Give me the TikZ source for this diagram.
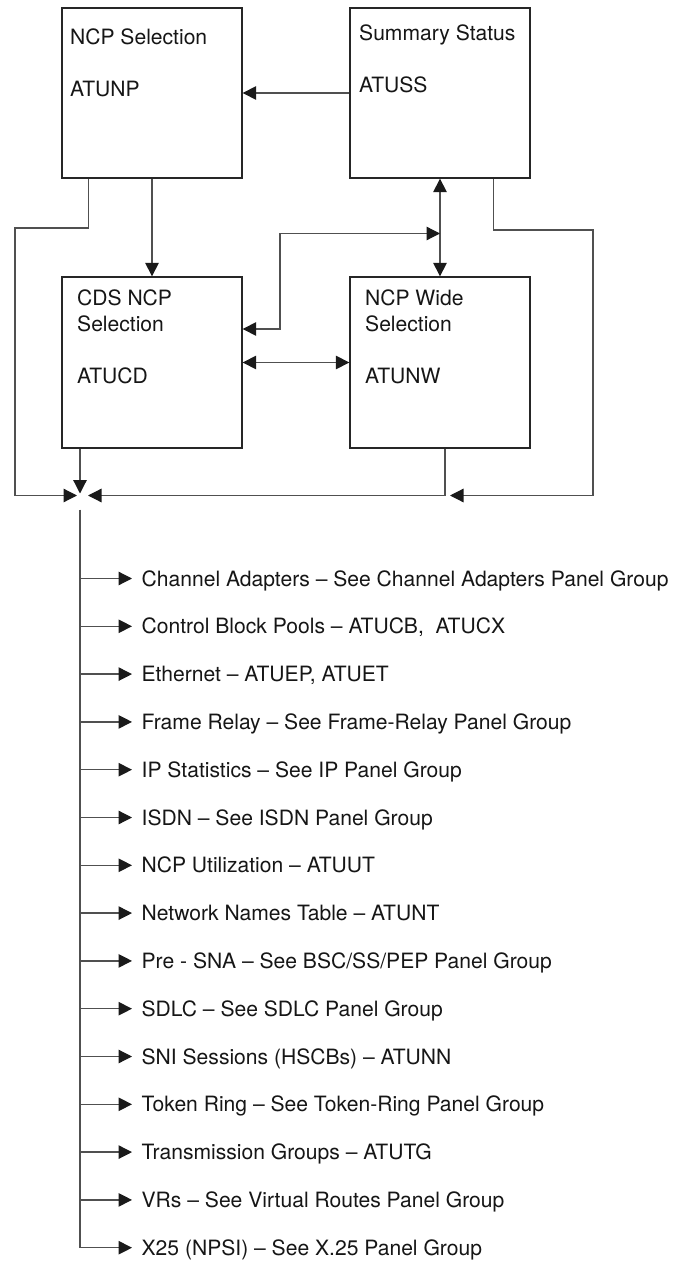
\documentclass[tikz,border=0pt]{standalone}
\usepackage{fontspec}
\setmainfont{TeX Gyre Heros}
\usetikzlibrary{positioning, arrows.meta}
\definecolor{clrborder}{HTML}{262626}
\definecolor{clrwire}{HTML}{505050}
\definecolor{clrtip}{HTML}{1A1A1A}
\definecolor{clrtext}{HTML}{161616}

\begin{document}
\begin{tikzpicture}[
    >={Triangle[length=0.27cm, width=0.27cm, color=clrtip]},
    every node/.style={font=\fontsize{12}{14.8}\selectfont, text=clrtext},
    block/.style={draw=clrborder, line width=0.75pt, minimum width=3.6cm,
                  minimum height=3.4cm, inner sep=0pt},
    blocktext/.style={align=left, inner sep=0pt},
    wire/.style={draw=clrwire, line width=0.7pt},
    arrow/.style={wire, ->},
    dblarrow/.style={wire, <->},
    listitem/.style={anchor=west, inner xsep=0.186cm, inner ysep=0pt,
                     text height=8.6pt, text depth=0pt},
]
\path[use as bounding box, fill=white] (0,0) rectangle (13.54,-25.24);
% panels
\node[block] (n_1) at (3.04,-1.86) {};
\node[block] (n_2) at (8.80,-1.86) {};
\node[block, minimum height=3.42cm] (n_3) at (3.04,-7.25) {};
\node[block, minimum height=3.42cm] (n_4) at (8.80,-7.25) {};
\node[blocktext, below right=0.42cm and 0.17cm of n_1.north west] (t_1) {NCP Selection\\[14.8pt]ATUNP};
\node[blocktext, below right=0.34cm and 0.19cm of n_2.north west] (t_2) {Summary Status\\[14.8pt]ATUSS};
\node[blocktext, below right=0.27cm and 0.31cm of n_3.north west] (t_3) {CDS NCP\\Selection\\[14.8pt]ATUCD};
\node[blocktext, below right=0.27cm and 0.31cm of n_4.north west] (t_4) {NCP Wide\\Selection\\[14.8pt]ATUNW};
% routing points
\coordinate (j) at (1.60,-9.91);
\coordinate (j_low) at ([yshift=-0.28cm]j);
\coordinate (c_1) at (0.30,-4.56);
\coordinate (c_2) at (11.86,-4.60);
\coordinate (c_3) at (5.60,-4.67);
\coordinate (c_4) at ([xshift=0.10cm]n_4.south);
\draw[arrow] (n_2.west) -- (n_1.east);
\draw[arrow] (n_1.south) -- (n_3.north);
\draw[dblarrow] (n_2.south) -- (n_4.north);
\draw[dblarrow] (n_3.east) -- (n_4.west);
\draw[dblarrow] ([yshift=0.67cm]n_3.east) -| (c_3) -- (c_3 -| n_2.south);
\draw[arrow, shorten >=0.06cm] ([xshift=0.54cm]n_1.south west) |- (c_1) |- (j);
\draw[arrow, shorten >=0.04cm] (n_3.south -| j) -- (j);
\draw[arrow, shorten >=0.16cm] (c_4) |- (j);
\draw[arrow, shorten >=0.10cm] ([xshift=-0.74cm]n_2.south east) |- (c_2) |- (c_4 |- j);
% panel list
\node[listitem] (i_1) at (2.64,-11.57) {Channel Adapters -- See Channel Adapters Panel Group};
\node[below=0.956cm of i_1.west, listitem] (i_2) {Control Block Pools -- ATUCB, \ ATUCX};
\node[below=0.956cm of i_2.west, listitem] (i_3) {Ethernet -- ATUEP, ATUET};
\node[below=0.956cm of i_3.west, listitem] (i_4) {Frame Relay -- See Frame-Relay Panel Group};
\node[below=0.956cm of i_4.west, listitem] (i_5) {IP Statistics -- See IP Panel Group};
\node[below=0.956cm of i_5.west, listitem] (i_6) {ISDN -- See ISDN Panel Group};
\node[below=0.956cm of i_6.west, listitem] (i_7) {NCP Utilization -- ATUUT};
\node[below=0.956cm of i_7.west, listitem] (i_8) {Network Names Table -- ATUNT};
\node[below=0.956cm of i_8.west, listitem] (i_9) {Pre - SNA -- See BSC/SS/PEP Panel Group};
\node[below=0.956cm of i_9.west, listitem] (i_10) {SDLC -- See SDLC Panel Group};
\node[below=0.956cm of i_10.west, listitem] (i_11) {SNI Sessions (HSCBs) -- ATUNN};
\node[below=0.956cm of i_11.west, listitem] (i_12) {Token Ring -- See Token-Ring Panel Group};
\node[below=0.956cm of i_12.west, listitem] (i_13) {Transmission Groups -- ATUTG};
\node[below=0.956cm of i_13.west, listitem] (i_14) {VRs -- See Virtual Routes Panel Group};
\node[below=0.956cm of i_14.west, listitem] (i_15) {X25 (NPSI) -- See X.25 Panel Group};
\draw[arrow] (j_low) |- (i_15.west);
\draw[arrow] (j_low |- i_1.west) -- (i_1.west);
\draw[arrow] (j_low |- i_2.west) -- (i_2.west);
\draw[arrow] (j_low |- i_3.west) -- (i_3.west);
\draw[arrow] (j_low |- i_4.west) -- (i_4.west);
\draw[arrow] (j_low |- i_5.west) -- (i_5.west);
\draw[arrow] (j_low |- i_6.west) -- (i_6.west);
\draw[arrow] (j_low |- i_7.west) -- (i_7.west);
\draw[arrow] (j_low |- i_8.west) -- (i_8.west);
\draw[arrow] (j_low |- i_9.west) -- (i_9.west);
\draw[arrow] (j_low |- i_10.west) -- (i_10.west);
\draw[arrow] (j_low |- i_11.west) -- (i_11.west);
\draw[arrow] (j_low |- i_12.west) -- (i_12.west);
\draw[arrow] (j_low |- i_13.west) -- (i_13.west);
\draw[arrow] (j_low |- i_14.west) -- (i_14.west);
\end{tikzpicture}
\end{document}
